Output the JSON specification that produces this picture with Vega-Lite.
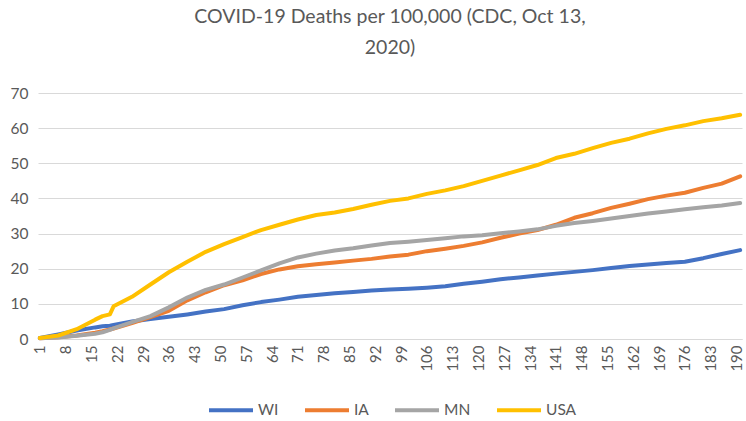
{
  "$schema": "https://vega.github.io/schema/vega-lite/v6.json",
  "width": 704,
  "height": 246,
  "autosize": {"type": "none"},
  "padding": {"left": 38, "top": 93, "right": 4, "bottom": 82},
  "background": "white",
  "title": {
    "text": ["COVID-19 Deaths per 100,000 (CDC, Oct 13,", "2020)"],
    "fontSize": 19.5,
    "font": "Lato",
    "fontWeight": "normal",
    "color": "#595959",
    "lineHeight": 31,
    "offset": 28,
    "anchor": "middle",
    "frame": "group"
  },
  "data": {
    "values": [
      {"d": 1, "WI": 0.3, "IA": 0.2, "MN": 0.2, "USA": 0.3},
      {"d": 6, "WI": 1.3, "IA": 0.5, "MN": 0.4, "USA": 1.0},
      {"d": 11, "WI": 2.4, "IA": 1.0, "MN": 0.9, "USA": 2.8},
      {"d": 16, "WI": 3.3, "IA": 1.8, "MN": 1.5, "USA": 5.5},
      {"d": 18, "WI": 3.6, "IA": 2.2, "MN": 1.9, "USA": 6.5},
      {"d": 20, "WI": 3.8, "IA": 2.7, "MN": 2.6, "USA": 7.0},
      {"d": 21, "WI": 4.0, "IA": 3.0, "MN": 3.0, "USA": 9.3},
      {"d": 26, "WI": 5.0, "IA": 4.5, "MN": 4.8, "USA": 12.0},
      {"d": 31, "WI": 5.7, "IA": 6.2, "MN": 6.5, "USA": 15.5},
      {"d": 36, "WI": 6.3, "IA": 8.0, "MN": 9.0, "USA": 19.0},
      {"d": 41, "WI": 7.0, "IA": 11.0, "MN": 11.8, "USA": 22.0},
      {"d": 46, "WI": 7.8, "IA": 13.3, "MN": 14.0, "USA": 24.8},
      {"d": 51, "WI": 8.5, "IA": 15.3, "MN": 15.5, "USA": 27.0},
      {"d": 56, "WI": 9.6, "IA": 16.7, "MN": 17.5, "USA": 29.0},
      {"d": 61, "WI": 10.5, "IA": 18.5, "MN": 19.5, "USA": 31.0},
      {"d": 66, "WI": 11.2, "IA": 19.8, "MN": 21.5, "USA": 32.5},
      {"d": 71, "WI": 12.0, "IA": 20.7, "MN": 23.2, "USA": 34.0},
      {"d": 76, "WI": 12.5, "IA": 21.3, "MN": 24.3, "USA": 35.3},
      {"d": 81, "WI": 13.0, "IA": 21.8, "MN": 25.2, "USA": 36.0},
      {"d": 86, "WI": 13.4, "IA": 22.3, "MN": 25.8, "USA": 37.0},
      {"d": 91, "WI": 13.8, "IA": 22.8, "MN": 26.6, "USA": 38.2},
      {"d": 96, "WI": 14.1, "IA": 23.5, "MN": 27.3, "USA": 39.3},
      {"d": 101, "WI": 14.3, "IA": 24.0, "MN": 27.7, "USA": 40.0},
      {"d": 106, "WI": 14.6, "IA": 25.0, "MN": 28.2, "USA": 41.3},
      {"d": 111, "WI": 15.0, "IA": 25.7, "MN": 28.7, "USA": 42.3},
      {"d": 116, "WI": 15.7, "IA": 26.5, "MN": 29.2, "USA": 43.5},
      {"d": 121, "WI": 16.3, "IA": 27.5, "MN": 29.5, "USA": 45.0},
      {"d": 126, "WI": 17.0, "IA": 28.8, "MN": 30.1, "USA": 46.5},
      {"d": 131, "WI": 17.5, "IA": 30.0, "MN": 30.6, "USA": 48.0},
      {"d": 136, "WI": 18.1, "IA": 31.0, "MN": 31.2, "USA": 49.5},
      {"d": 141, "WI": 18.6, "IA": 32.5, "MN": 32.2, "USA": 51.5},
      {"d": 146, "WI": 19.1, "IA": 34.5, "MN": 33.0, "USA": 52.7},
      {"d": 151, "WI": 19.6, "IA": 35.8, "MN": 33.6, "USA": 54.3},
      {"d": 156, "WI": 20.2, "IA": 37.3, "MN": 34.3, "USA": 55.8},
      {"d": 161, "WI": 20.8, "IA": 38.5, "MN": 35.0, "USA": 57.0},
      {"d": 166, "WI": 21.2, "IA": 39.8, "MN": 35.7, "USA": 58.5},
      {"d": 171, "WI": 21.6, "IA": 40.8, "MN": 36.3, "USA": 59.8},
      {"d": 176, "WI": 22.0, "IA": 41.6, "MN": 36.9, "USA": 60.8},
      {"d": 181, "WI": 23.0, "IA": 43.0, "MN": 37.5, "USA": 62.0},
      {"d": 186, "WI": 24.2, "IA": 44.2, "MN": 38.0, "USA": 62.8},
      {"d": 191, "WI": 25.3, "IA": 46.3, "MN": 38.7, "USA": 63.8}
    ]
  },
  "transform": [{"fold": ["WI", "IA", "MN", "USA"], "as": ["state", "deaths"]}],
  "mark": {"type": "line", "strokeWidth": 4, "strokeCap": "round", "strokeJoin": "round"},
  "encoding": {
    "x": {
      "field": "d",
      "type": "quantitative",
      "scale": {"domain": [0.5, 191.5], "nice": false, "zero": false},
      "axis": {
        "title": null,
        "values": [1, 8, 15, 22, 29, 36, 43, 50, 57, 64, 71, 78, 85, 92, 99, 106, 113, 120, 127, 134, 141, 148, 155, 162, 169, 176, 183, 190],
        "labelAngle": -90,
        "labelFontSize": 15,
        "labelFont": "Lato",
        "labelColor": "#595959",
        "labelPadding": 6,
        "grid": false,
        "ticks": false,
        "domainColor": "#D9D9D9",
        "domainWidth": 1,
        "labelOverlap": false,
        "labelFlush": false
      }
    },
    "y": {
      "field": "deaths",
      "type": "quantitative",
      "scale": {"domain": [0, 70], "nice": false},
      "axis": {
        "title": null,
        "values": [0, 10, 20, 30, 40, 50, 60, 70],
        "labelFontSize": 15.5,
        "labelFont": "Lato",
        "labelColor": "#595959",
        "labelPadding": 10,
        "grid": true,
        "gridColor": "#D9D9D9",
        "gridWidth": 1,
        "domain": false,
        "ticks": false
      }
    },
    "color": {
      "field": "state",
      "type": "nominal",
      "sort": ["WI", "IA", "MN", "USA"],
      "scale": {"domain": ["WI", "IA", "MN", "USA"], "range": ["#4472C4", "#ED7D31", "#A5A5A5", "#FFC000"]},
      "legend": {
        "title": null,
        "orient": "none",
        "legendX": 169,
        "legendY": 293,
        "direction": "horizontal",
        "symbolType": "stroke",
        "symbolSize": 1936,
        "symbolStrokeWidth": 4,
        "labelFontSize": 15.5,
        "labelFont": "Lato",
        "labelColor": "#595959",
        "labelOffset": 3,
        "columnPadding": 18
      }
    }
  },
  "config": {"view": {"stroke": null}}
}
